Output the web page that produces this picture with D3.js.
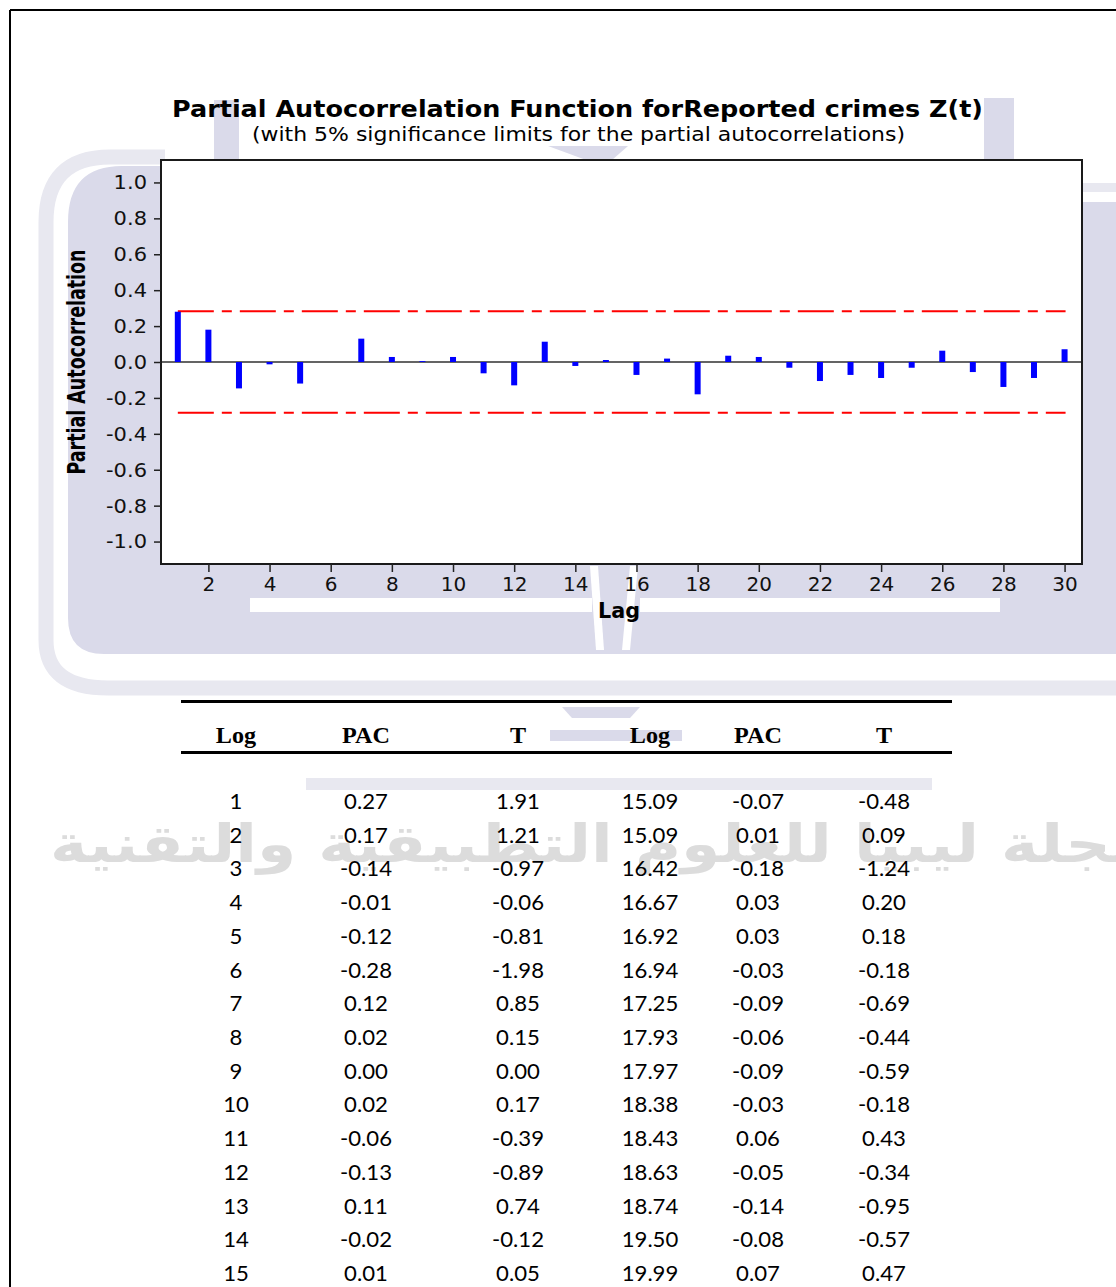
<!DOCTYPE html>
<html><head><meta charset="utf-8">
<script src="https://cdn.jsdelivr.net/npm/d3@7"></script>
<style>html,body{margin:0;padding:0;background:#fff} svg{display:block}</style>
</head><body>
<svg id="c" width="1116" height="1287"></svg>
<script>
// ---------- data ----------
const lags = [1,2,3,4,5,6,7,8,9,10,11,12,13,14,15,16,17,18,19,20,21,22,23,24,25,26,27,28,29,30];
const pacValues = [0.28,0.18,-0.147,-0.013,-0.12,0,0.13,0.028,0.005,0.028,-0.063,-0.13,0.113,-0.022,0.011,
                   -0.072,0.019,-0.18,0.035,0.028,-0.032,-0.106,-0.072,-0.089,-0.032,0.063,-0.056,-0.139,-0.089,0.071];
const sigLimit = 0.283;
const yTicks = [-1.0,-0.8,-0.6,-0.4,-0.2,0.0,0.2,0.4,0.6,0.8,1.0];
const yTickLabels = ["-1.0","-0.8","-0.6","-0.4","-0.2","0.0","0.2","0.4","0.6","0.8","1.0"];
const xTicks = [2,4,6,8,10,12,14,16,18,20,22,24,26,28,30];
const xTickLabels = ["2","4","6","8","10","12","14","16","18","20","22","24","26","28","30"];

const tableHeaders = ["Log","PAC","T","Log","PAC","T"];
const colLag1 = ["1","2","3","4","5","6","7","8","9","10","11","12","13","14","15"];
const colPac1 = ["0.27","0.17","-0.14","-0.01","-0.12","-0.28","0.12","0.02","0.00","0.02","-0.06","-0.13","0.11","-0.02","0.01"];
const colT1   = ["1.91","1.21","-0.97","-0.06","-0.81","-1.98","0.85","0.15","0.00","0.17","-0.39","-0.89","0.74","-0.12","0.05"];
const colLog2 = ["15.09","15.09","16.42","16.67","16.92","16.94","17.25","17.93","17.97","18.38","18.43","18.63","18.74","19.50","19.99"];
const colPac2 = ["-0.07","0.01","-0.18","0.03","0.03","-0.03","-0.09","-0.06","-0.09","-0.03","0.06","-0.05","-0.14","-0.08","0.07"];
const colT2   = ["-0.48","0.09","-1.24","0.20","0.18","-0.18","-0.69","-0.44","-0.59","-0.18","0.43","-0.34","-0.95","-0.57","0.47"];

const titleText = "Partial Autocorrelation Function forReported crimes Z(t)";
const subtitleText = "(with 5% significance limits for the partial autocorrelations)";
const yLabelText = "Partial Autocorrelation";
const xLabelText = "Lag";
const watermarkText = "مجلة ليبيا للعلوم التطبيقية والتقنية";

// ---------- setup ----------
const svg = d3.select("#c");
const plot = {l:161, t:160, r:1082, b:564};
const x = d3.scaleLinear().domain([0.45,30.57]).range([plot.l, plot.r]);
const y = d3.scaleLinear().domain([-1.125,1.125]).range([plot.b, plot.t]);

function stretchX(sel, sx){
  sel.each(function(){
    const t = d3.select(this);
    const xx = +(t.attr("x")||0);
    t.attr("transform", `translate(${xx},0) scale(${sx},1) translate(${-xx},0)`);
  });
}

// ---------- watermark (decorative logo) ----------
const wm = svg.append("g");
const lav = "#dadaea", lavLight = "#e8e8f0";
wm.append("path")
  .attr("d","M165 157 L110 157 Q46 157 46 222 L46 640 Q46 688 108 688 L1116 688")
  .attr("fill","none").attr("stroke",lavLight).attr("stroke-width",15);
wm.append("rect").attr("x",1082).attr("y",183).attr("width",40).attr("height",9).attr("fill",lavLight);
wm.append("path")
  .attr("d","M122 166 L161 166 L161 564 L1082 564 L1082 202 L1116 202 L1116 654 L104 654 Q68 654 68 618 L68 222 Q68 166 122 166 Z")
  .attr("fill",lav);
wm.append("rect").attr("x",250).attr("y",598).attr("width",342).attr("height",14).attr("fill","#fff");
wm.append("rect").attr("x",640).attr("y",598).attr("width",360).attr("height",14).attr("fill","#fff");
wm.append("path").attr("d","M590 566 L598 566 L604 650 L596 650 Z").attr("fill","#fff");
wm.append("path").attr("d","M630 566 L638 566 L630 650 L622 650 Z").attr("fill","#fff");
wm.append("rect").attr("x",214).attr("y",100).attr("width",25).attr("height",60).attr("fill",lav);
wm.append("rect").attr("x",984).attr("y",98).attr("width",30).attr("height",62).attr("fill",lav);
wm.append("path").attr("d","M548 146 L628 146 L612 160 L586 160 Z").attr("fill",lav);
wm.append("path").attr("d","M562 707 L640 707 L630 718 L572 718 Z").attr("fill",lav);
wm.append("rect").attr("x",550).attr("y",730).attr("width",132).attr("height",11).attr("fill",lav);
wm.append("rect").attr("x",306).attr("y",778).attr("width",626).attr("height",12).attr("fill",lavLight);
wm.append("text").text(watermarkText)
  .attr("x",600).attr("y",862)
  .attr("text-anchor","middle")
  .attr("font-family","DejaVu Sans").attr("font-weight","bold").attr("font-size",52)
  .attr("fill","#dcdcdc")
  .attr("textLength",1100).attr("lengthAdjust","spacingAndGlyphs");

// ---------- outer border ----------
svg.append("line").attr("x1",10).attr("y1",10).attr("x2",1116).attr("y2",10).attr("stroke","#000").attr("stroke-width",2);
svg.append("line").attr("x1",10).attr("y1",10).attr("x2",10).attr("y2",1287).attr("stroke","#000").attr("stroke-width",2);

// ---------- titles ----------
svg.append("text").text(titleText)
  .attr("x",577.5).attr("y",117).attr("text-anchor","middle")
  .attr("font-family","DejaVu Sans").attr("font-weight","bold").attr("font-size",23)
  .attr("textLength",811).attr("lengthAdjust","spacingAndGlyphs");
svg.append("text").text(subtitleText)
  .attr("x",578.5).attr("y",141).attr("text-anchor","middle")
  .attr("font-family","DejaVu Sans").attr("font-size",19.5)
  .attr("textLength",653).attr("lengthAdjust","spacingAndGlyphs");

// ---------- plot ----------
svg.append("rect").attr("x",plot.l).attr("y",plot.t)
  .attr("width",plot.r-plot.l).attr("height",plot.b-plot.t)
  .attr("fill","#fff");

svg.append("line").attr("x1",plot.l).attr("x2",plot.r)
  .attr("y1",y(0)).attr("y2",y(0)).attr("stroke","#646464").attr("stroke-width",2);

[sigLimit,-sigLimit].forEach(v=>{
  svg.append("line").attr("x1",x(lags[0])).attr("x2",x(lags[lags.length-1])+1)
    .attr("y1",y(v)).attr("y2",y(v))
    .attr("stroke","#ff0000").attr("stroke-width",2)
    .attr("stroke-dasharray","36,8,10,8");
});

svg.append("g").selectAll("rect").data(lags).join("rect")
  .attr("x",d=>x(d)-3).attr("width",6)
  .attr("y",(d,i)=>Math.min(y(pacValues[i]),y(0)))
  .attr("height",(d,i)=>Math.abs(y(pacValues[i])-y(0)))
  .attr("fill","#0000ff");

svg.append("rect").attr("x",plot.l).attr("y",plot.t)
  .attr("width",plot.r-plot.l).attr("height",plot.b-plot.t)
  .attr("fill","none").attr("stroke","#1a1a1a").attr("stroke-width",2);

const gy = svg.append("g").attr("transform",`translate(${plot.l},0)`)
  .call(d3.axisLeft(y).tickValues(yTicks).tickFormat((d,i)=>yTickLabels[i]).tickSize(7).tickPadding(7));
gy.select(".domain").remove();
gy.selectAll("line").attr("stroke","#222").attr("stroke-width",1.5);
gy.selectAll("text").attr("font-family","DejaVu Sans").attr("font-size",20).attr("fill","#111");
stretchX(gy.selectAll("text"),1.05);

const gx = svg.append("g").attr("transform",`translate(0,${plot.b})`)
  .call(d3.axisBottom(x).tickValues(xTicks).tickFormat((d,i)=>xTickLabels[i]).tickSize(8).tickPadding(5));
gx.select(".domain").remove();
gx.selectAll("line").attr("stroke","#222").attr("stroke-width",1.5);
gx.selectAll("text").attr("font-family","DejaVu Sans").attr("font-size",20).attr("fill","#111");

svg.append("text").text(yLabelText)
  .attr("transform","translate(85,362) rotate(-90)")
  .attr("text-anchor","middle")
  .attr("font-family","DejaVu Sans").attr("font-weight","bold").attr("font-size",24)
  .attr("textLength",225).attr("lengthAdjust","spacingAndGlyphs");
svg.append("text").text(xLabelText)
  .attr("x",619).attr("y",618).attr("text-anchor","middle")
  .attr("font-family","DejaVu Sans").attr("font-weight","bold").attr("font-size",22)
  .attr("textLength",42).attr("lengthAdjust","spacingAndGlyphs");

// ---------- table ----------
const colX = [236,366,518,650,758,884];
const tbl = svg.append("g");
tbl.append("line").attr("x1",181).attr("x2",952).attr("y1",701.5).attr("y2",701.5).attr("stroke","#000").attr("stroke-width",3);
tbl.append("line").attr("x1",181).attr("x2",952).attr("y1",752.5).attr("y2",752.5).attr("stroke","#000").attr("stroke-width",3);
const hdr = tbl.selectAll("text.h").data(tableHeaders).join("text").attr("class","h")
  .text(d=>d).attr("x",(d,i)=>colX[i]).attr("y",743)
  .attr("text-anchor","middle")
  .attr("font-family","Liberation Serif").attr("font-weight","bold").attr("font-size",23);
stretchX(hdr,1.05);

const columns = [colLag1,colPac1,colT1,colLog2,colPac2,colT2];
columns.forEach((col,ci)=>{
  const t = tbl.selectAll(null).data(col).join("text")
    .text(d=>d).attr("x",colX[ci]).attr("y",(d,ri)=>809+ri*33.72)
    .attr("text-anchor","middle")
    .attr("font-family","Lato").attr("font-size",20.5).attr("fill","#000");
  stretchX(t,1.08);
});
</script>
</body></html>
